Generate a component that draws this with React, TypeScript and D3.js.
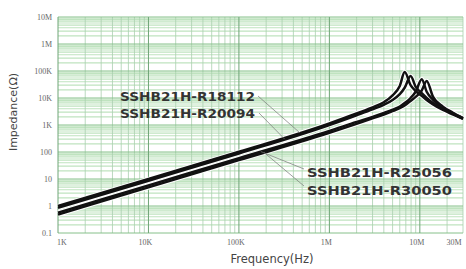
import * as d3 from "d3";
import { useMemo } from "react";

// frequency grid (Hz), shared by all curves
const freqs = [1e3, 1e4, 1e5, 1e6, 2e6, 3e6, 4e6, 5e6, 6e6, 6.8e6, 7.9e6, 9e6, 10.5e6, 11.9e6, 14e6, 18e6, 23e6, 30e6];

// impedance (ohm)
const r18112 = [1.0, 10, 102, 1150, 2700, 4500, 7000, 12500, 28000, 91000, 30000, 18000, 12000, 8500, 5800, 3600, 2500, 1700];
const r20094 = [0.85, 8.6, 88, 1000, 2300, 3800, 5600, 8500, 14000, 24000, 65000, 26000, 15000, 10000, 6500, 4000, 2700, 1800];
const r25056 = [0.57, 5.8, 59, 600, 1300, 2000, 2800, 3700, 4800, 6500, 10000, 17000, 50000, 17000, 8500, 4300, 2700, 1700];
const r30050 = [0.48, 4.9, 50, 510, 1100, 1750, 2450, 3250, 4200, 5300, 7800, 11000, 19000, 43000, 11000, 4800, 2900, 1800];

const seriesNames = ["SSHB21H-R18112", "SSHB21H-R20094", "SSHB21H-R25056", "SSHB21H-R30050"];
const seriesValues = [r18112, r20094, r25056, r30050];

const xTicks = [1e3, 1e4, 1e5, 1e6, 1e7, 3e7];
const xTickLabels = ["1K", "10K", "100K", "1M", "10M", "30M"];
const yTicks = [0.1, 1, 10, 100, 1e3, 1e4, 1e5, 1e6, 1e7];
const yTickLabels = ["0.1", "1", "10", "100", "1K", "10K", "100K", "1M", "10M"];

const WIDTH = 466;
const HEIGHT = 269;
const MARGIN = { top: 17, right: 3, bottom: 36, left: 58 };

// label layout: text position + frequency where the leader meets its curve
const labels = [
  { x: 120, y: 101, len: 135, lx: 258, ly: 96, at: 4.7e5 },
  { x: 120, y: 118, len: 135, lx: 259, ly: 113, at: 3.2e5 },
  { x: 307, y: 177, len: 145, lx: 304, ly: 169, at: 1.75e5 },
  { x: 307, y: 195, len: 145, lx: 304, ly: 186, at: 1.9e5 },
];

function ImpedanceChart() {
  const boundsWidth = WIDTH - MARGIN.left - MARGIN.right;
  const boundsHeight = HEIGHT - MARGIN.top - MARGIN.bottom;

  const xScale = useMemo(() => d3.scaleLog().domain([1e3, 3e7]).range([0, boundsWidth]), []);
  const yScale = useMemo(() => d3.scaleLog().domain([0.1, 1e7]).range([boundsHeight, 0]), []);

  // minor / major grid values
  const xMinor: number[] = [];
  for (let e = 3; e <= 7; e++) for (let m = 2; m <= 9; m++) if (m * 10 ** e <= 3e7) xMinor.push(m * 10 ** e);
  const yMinor: number[] = [];
  for (let e = -1; e < 7; e++) for (let m = 2; m <= 9; m++) yMinor.push(m * 10 ** e);

  const line = d3
    .line<number>()
    .x((_, i) => xScale(freqs[i]))
    .y((d) => yScale(d))
    .curve(d3.curveMonotoneX);

  const valueAt = (vals: number[], f: number) => {
    const lf = d3.scaleLog().domain(freqs).range(vals.map((v) => Math.log10(v)));
    return 10 ** lf(f);
  };

  return (
    <svg width={WIDTH} height={HEIGHT} style={{ position: "absolute", left: 0, top: 0, background: "#fff" }}>
      <g transform={`translate(${[MARGIN.left, MARGIN.top].join(",")})`}>
        {yMinor.map((v, i) => (
          <line key={"ym" + i} x1={0} x2={boundsWidth} y1={yScale(v)} y2={yScale(v)} stroke="#bfe3bf" strokeWidth={1.2} />
        ))}
        {xMinor.map((v, i) => (
          <line key={"xm" + i} y1={0} y2={boundsHeight} x1={xScale(v)} x2={xScale(v)} stroke="#a9cfae" strokeWidth={0.8} />
        ))}
        {yTicks.map((v, i) => (
          <line key={"yM" + i} x1={0} x2={boundsWidth} y1={yScale(v)} y2={yScale(v)} stroke="#86c08a" strokeWidth={1} />
        ))}
        {xTicks.slice(0, 5).map((v, i) => (
          <line key={"xM" + i} y1={0} y2={boundsHeight} x1={xScale(v)} x2={xScale(v)} stroke="#6fa577" strokeWidth={1} />
        ))}

        {yTicks.map((v, i) => (
          <text key={"yt" + i} x={-6} y={yScale(v)} dy="0.32em" textAnchor="end" fontFamily="Liberation Serif" fontSize={8} fill="#666">
            {yTickLabels[i]}
          </text>
        ))}
        {xTicks.map((v, i) => (
          <text key={"xt" + i} x={xScale(v) + (i === 0 ? 4 : i === 5 ? -9 : -3)} y={boundsHeight + 12} textAnchor="middle" fontFamily="Liberation Serif" fontSize={8} fill="#666">
            {xTickLabels[i]}
          </text>
        ))}

        {seriesValues.map((vals, i) => (
          <path key={"w" + i} d={line(vals) ?? ""} fill="none" stroke="#fff" strokeWidth={4.4} />
        ))}
        {seriesValues.map((vals, i) => (
          <path key={"s" + i} d={line(vals) ?? ""} fill="none" stroke="#111" strokeWidth={2.5} strokeLinejoin="round" />
        ))}
      </g>

      {labels.map((l, i) => (
        <g key={"lab" + i}>
          <line
            x1={l.lx}
            y1={l.ly}
            x2={MARGIN.left + xScale(l.at)}
            y2={MARGIN.top + yScale(valueAt(seriesValues[i], l.at))}
            stroke="#777"
            strokeWidth={0.7}
          />
          <text x={l.x} y={l.y} textLength={l.len} lengthAdjust="spacingAndGlyphs" fontFamily="DejaVu Sans" fontWeight={600} fontSize={12.5} fill="#333">
            {seriesNames[i]}
          </text>
        </g>
      ))}

      <text transform="translate(17,112) rotate(-90)" textAnchor="middle" fontFamily="DejaVu Sans" fontSize={11} fill="#444">
        Impedance(Ω)
      </text>
      <text x={272} y={263} textAnchor="middle" fontFamily="DejaVu Sans" fontSize={11.5} fill="#444">
        Frequency(Hz)
      </text>
    </svg>
  );
}

export default function App() {
  return (
    <div>
      <ImpedanceChart />
    </div>
  );
}
